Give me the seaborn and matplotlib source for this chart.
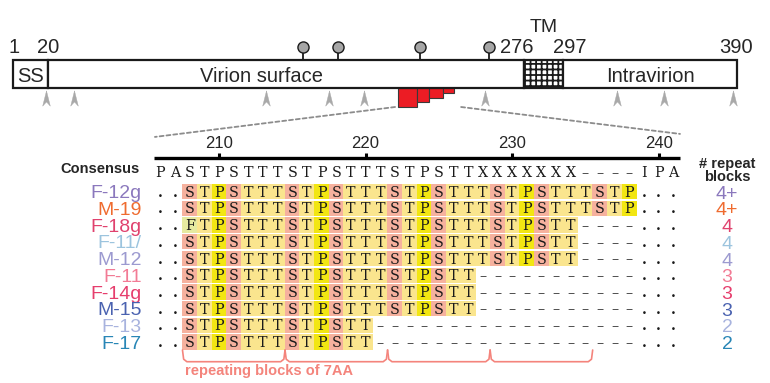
import matplotlib
matplotlib.use('Agg')
from matplotlib import pyplot as plt
from matplotlib.patches import ConnectionPatch
import seaborn as sns
import pandas as pd

# protein map (residue numbers)
domain_names = ['SS', 'Virion surface', 'TM', 'Intravirion']
domain_start = [1, 20, 276, 297]
domain_end = [20, 276, 297, 390]
boundary_labels = [1, 20, 276, 297, 390]
glyco_sites = [157, 176, 220, 257]
arrow_sites = [19, 34, 137, 171, 190, 255, 326, 351, 388]
repeat_edges = [208, 218.5, 225, 232, 238]
repeat_depth = [4, 3, 2, 1]

# alignment of the repeat region
first_residue = 206
residue_ticks = [210, 220, 230, 240]
consensus = 'PASTPSTTTSTPSTTTSTPSTTXXXXXXX----IPA'
names = ['F-12g', 'M-19', 'F-18g', 'F-11/', 'M-12', 'F-11', 'F-14g', 'M-15', 'F-13', 'F-17']
sequences = [
    '..STPSTTTSTPSTTTSTPSTTTSTPSTTTSTP...',
    '..STPSTTTSTPSTTTSTPSTTTSTPSTTTSTP...',
    '..FTPSTTTSTPSTTTSTPSTTTSTPSTT----...',
    '..STPSTTTSTPSTTTSTPSTTTSTPSTT----...',
    '..STPSTTTSTPSTTTSTPSTTTSTPSTT----...',
    '..STPSTTTSTPSTTTSTPSTT-----------...',
    '..STPSTTTSTPSTTTSTPSTT-----------...',
    '..STPSTTTSTPSTTTSTPSTT-----------...',
    '..STPSTTTSTPSTT------------------...',
    '..STPSTTTSTPSTT------------------...',
]
repeat_blocks = ['4+', '4+', '4', '4', '4', '3', '3', '3', '2', '2']
name_colors = ['#8b78bd', '#ef6b2f', '#e0426e', '#9cc4de', '#9c9ad0',
               '#f27b95', '#e63e6d', '#4a62b0', '#a8b3de', '#2886b6']
block_starts = [2, 9, 16, 23]
block_len = 7

cell_colors = {'S': '#f6b19e', 'T': '#fae58e', 'P': '#f2e612', 'F': '#e6eaa0'}
salmon = '#f4847c'

sns.set_theme(style='white')
plt.rcParams['font.family'] = ['Liberation Sans', 'DejaVu Sans']
plt.rcParams['hatch.linewidth'] = 1.3

fig = plt.figure(figsize=(7.7, 3.83), dpi=100)

# ---- top: protein map, x in residues, y in pixels
ax = fig.add_axes([0, 0, 1, 1])
ax.axis('off')
scale = 723.8 / 389
ax.set_xlim(1 - 12.7 / scale, 1 + (770 - 12.7) / scale)
ax.set_ylim(383, 0)

widths = [e - s for s, e in zip(domain_start, domain_end)]
bars = ax.barh(y=73.8, width=widths, left=domain_start, height=28.4,
               color='white', edgecolor='#1a1a1a', linewidth=1.6, zorder=2)
bars[2].set_hatch('+++')

label_x = [10.5, 134.5, 286.5, 343.5]
for name, x in zip(domain_names, label_x):
    if name == 'TM':
        ax.text(x, 31.5, name, ha='center', va='baseline', fontsize=14)
    else:
        ax.text(x, 82, name, ha='center', va='baseline', fontsize=14.5, zorder=3)

label_shift = {1: 0.6, 276: -4, 297: 3.5}
for b in boundary_labels:
    ax.text(b + label_shift.get(b, 0), 53, str(b), ha='center', va='baseline', fontsize=14.5)

# repeat-count steps hanging below the bar
rep = pd.DataFrame({'left': repeat_edges[:-1],
                    'width': [b - a for a, b in zip(repeat_edges[:-1], repeat_edges[1:])],
                    'depth': repeat_depth})
ax.bar(rep['left'], rep['depth'] * 4.75, width=rep['width'], bottom=88, align='edge',
       color='#ec1c24', edgecolor='#3a3a3a', linewidth=0.8, zorder=1)

# glycosylation lollipops
ax.vlines(glyco_sites, 52, 59.5, color='#1a1a1a', lw=1.3, zorder=1)
sns.scatterplot(x=glyco_sites, y=[47] * len(glyco_sites), ax=ax, s=64, color='#a6a6a6',
                edgecolor='#1a1a1a', linewidth=1.0, zorder=3)

# gray arrowheads
arrow_marker = [(0, 1), (0.5, -1), (0, -0.45), (-0.5, -1), (0, 1)]
sns.scatterplot(x=arrow_sites, y=[97.5] * len(arrow_sites), ax=ax, marker=arrow_marker,
                s=120, color='#a9a9a9', edgecolor='#a9a9a9', linewidth=0.3)

# ---- bottom: alignment, x in columns, y in rows
ax2 = fig.add_axes([0, 0, 1, 1])
ax2.axis('off')
col_w = 14.65
x0 = 160.5
row_h = 16.7
y0 = 191.7
ax2.set_xlim(-x0 / col_w, (770 - x0) / col_w)
ax2.set_ylim((383 - y0) / row_h, -y0 / row_h)

seq_font = dict(family='DejaVu Serif', fontsize=10.3, color='#1a1a1a', ha='center', va='baseline')

# residue ruler
tick_cols = [t - first_residue for t in residue_ticks]
ax2.hlines(-2.02, -0.45, len(consensus) - 0.55, color='black', lw=2.4)
ax2.vlines(tick_cols, -2.34, -2.02, color='black', lw=2.2)
for t, c in zip(residue_ticks, tick_cols):
    ax2.text(c, -2.62, str(t), ha='center', va='baseline', fontsize=12)

ax2.text(-1.4, -1.14, 'Consensus', ha='right', va='baseline', fontsize=10.5, fontweight='bold')
for i, ch in enumerate(consensus):
    ax2.text(i, -0.88, '\u2013' if ch == '-' else ch, **seq_font)

for k, (name, seq, nb, col) in enumerate(zip(names, sequences, repeat_blocks, name_colors)):
    cols = [i for i, ch in enumerate(seq) if ch in cell_colors]
    ax2.bar(cols, 0.92, width=1.03, bottom=k - 0.46,
            color=[cell_colors[seq[i]] for i in cols], linewidth=0, zorder=1)
    for i, ch in enumerate(seq):
        if ch == '.':
            ax2.text(i, k + 0.3, '.', fontweight='bold', **seq_font)
        elif ch == '-':
            ax2.text(i, k + 0.3, '\u2013', **seq_font)
        else:
            ax2.text(i, k + 0.3, ch, zorder=2, **seq_font)
    ax2.text(-1.28, k + 0.4, name, ha='right', va='baseline', fontsize=14, color=col)
    ax2.text(38.67, k + 0.42, nb, ha='center', va='baseline', fontsize=14, color=col)

ax2.text(38.67, -1.42, '# repeat', ha='center', va='baseline', fontsize=10.5, fontweight='bold')
ax2.text(38.67, -0.66, 'blocks', ha='center', va='baseline', fontsize=10.5, fontweight='bold')

# brackets under the repeating blocks
top, bot = 9.48, 10.18
for s in block_starts:
    l, r = s - 0.5, s + block_len - 0.5
    ax2.plot([l, l + 0.08, l + 0.3, r - 0.3, r - 0.08, r],
             [top, bot - 0.15, bot, bot, bot - 0.15, top], color=salmon, lw=1.2)
ax2.text(block_starts[0] - 0.35, 10.98, 'repeating blocks of 7AA', ha='left', va='baseline',
         fontsize=10.5, fontweight='bold', color=salmon)

# dashed zoom lines from the map to the alignment
for xa, xb, yb in [(206.5, -0.38, -3.28), (242, 35.46, -3.46)]:
    con = ConnectionPatch(xyA=(xa, 107), coordsA=ax.transData, xyB=(xb, yb), coordsB=ax2.transData,
                          color='#8c8c8c', lw=1.3, linestyle=(0, (2.2, 1.6)))
    fig.add_artist(con)

fig.savefig('out.png', dpi=100)
